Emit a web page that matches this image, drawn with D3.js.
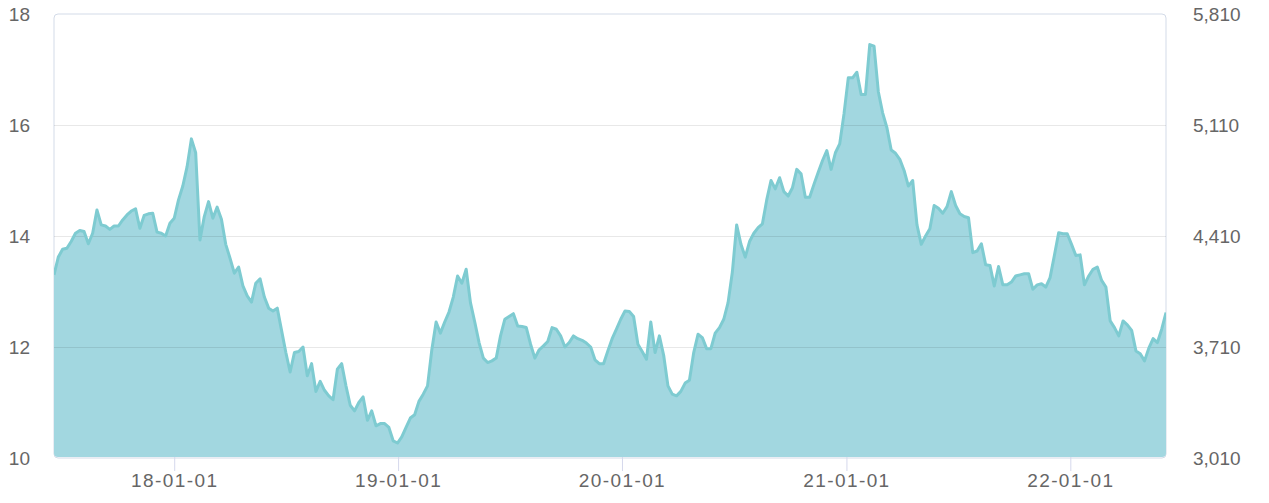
<!DOCTYPE html>
<html>
<head>
<meta charset="utf-8">
<script src="https://cdn.jsdelivr.net/npm/d3@7"></script>
<style>
  html, body { margin: 0; padding: 0; background: #fff; }
  svg { display: block; }
  text { font-family: "Helvetica Neue", Helvetica, "Liberation Sans", Arial, sans-serif; }
</style>
</head>
<body>
<svg id="chart" width="1269" height="503"></svg>
<script>
// ---- data ----
const startDate = "2017-06-19";          // first weekly observation
const weekStepDays = 7;
const values = [
  13.3, 13.62, 13.76, 13.78, 13.9, 14.05, 14.1, 14.08, 13.86, 14.05,
  14.47, 14.2, 14.18, 14.12, 14.18, 14.18, 14.29, 14.38, 14.45, 14.49,
  14.14, 14.37, 14.4, 14.41, 14.07, 14.05, 14.0, 14.23, 14.32, 14.65,
  14.9, 15.25, 15.75, 15.5, 13.93, 14.35, 14.62, 14.32, 14.52, 14.3,
  13.85, 13.6, 13.33, 13.44, 13.1, 12.92, 12.81, 13.15, 13.23, 12.9,
  12.7, 12.65, 12.7, 12.3, 11.9, 11.55, 11.9, 11.92, 12.0, 11.48,
  11.7, 11.2, 11.38, 11.22, 11.12, 11.05, 11.6, 11.7, 11.3, 10.95,
  10.85, 11.0, 11.1, 10.68, 10.85, 10.58, 10.62, 10.62, 10.55, 10.31,
  10.27, 10.38, 10.55, 10.72, 10.78, 11.02, 11.15, 11.3, 11.95, 12.45,
  12.25, 12.45, 12.63, 12.9, 13.28, 13.15, 13.4, 12.8, 12.45, 12.08,
  11.8, 11.72, 11.75, 11.8, 12.2, 12.5, 12.55, 12.6, 12.38, 12.37,
  12.35, 12.05, 11.8, 11.95, 12.02, 12.1, 12.35, 12.32, 12.2, 12.0,
  12.08, 12.2, 12.15, 12.12, 12.07, 12.0, 11.77, 11.7, 11.7, 11.93,
  12.15, 12.32, 12.5, 12.65, 12.64, 12.55, 12.05, 11.92, 11.78, 12.45,
  11.9, 12.2, 11.85, 11.3, 11.15, 11.12, 11.2, 11.35, 11.4, 11.9,
  12.23, 12.17, 11.97, 11.97, 12.25, 12.35, 12.5, 12.8, 13.35, 14.2,
  13.85, 13.62, 13.9, 14.05, 14.15, 14.22, 14.65, 15.0, 14.85, 15.05,
  14.8, 14.72, 14.87, 15.2, 15.12, 14.7, 14.7, 14.93, 15.15, 15.36,
  15.54, 15.2, 15.5, 15.66, 16.2, 16.85, 16.85, 16.95, 16.55, 16.55,
  17.45, 17.42, 16.6, 16.22, 15.95, 15.55, 15.49, 15.38, 15.18, 14.9,
  15.0, 14.2, 13.85, 14.0, 14.13, 14.55, 14.5, 14.41, 14.53, 14.8,
  14.55, 14.4, 14.35, 14.33, 13.7, 13.73, 13.86, 13.48, 13.47, 13.1,
  13.45, 13.12, 13.12, 13.17, 13.28, 13.3, 13.32, 13.32, 13.04, 13.12,
  13.14, 13.08, 13.25, 13.65, 14.06, 14.04, 14.04, 13.85, 13.65, 13.66,
  13.12, 13.28, 13.4, 13.44, 13.2, 13.08, 12.47, 12.35, 12.2, 12.47,
  12.4, 12.3, 11.93, 11.88, 11.75, 11.98, 12.15, 12.08, 12.32, 12.62
];
const leftTicks = [10, 12, 14, 16, 18];
const rightTicks = [3010, 3710, 4410, 5110, 5810];
const xTickDates = ["2018-01-01", "2019-01-01", "2020-01-01", "2021-01-01", "2022-01-01"];

// ---- build ----
const parse = d3.timeParse("%Y-%m-%d");
const t0 = parse(startDate);
const data = values.map((v, i) => ({ date: d3.timeDay.offset(t0, i * weekStepDays), value: v }));

const svg = d3.select("#chart");
const margin = { left: 54, right: 103, top: 14, bottom: 45 };
const W = 1269, H = 503;
const iw = W - margin.left - margin.right;
const ih = H - margin.top - margin.bottom;

const x = d3.scaleTime()
  .domain([data[0].date, data[data.length - 1].date])
  .range([margin.left, margin.left + iw]);
const y = d3.scaleLinear().domain([10, 18]).range([margin.top + ih, margin.top]);
const y2 = d3.scaleLinear().domain([3010, 5810]).range([margin.top + ih, margin.top]);

const defs = svg.append("defs");
defs.append("clipPath").attr("id", "plotclip")
  .append("rect")
  .attr("x", margin.left).attr("y", margin.top - 2)
  .attr("width", iw).attr("height", ih + 1)
  .attr("rx", 4).attr("ry", 4);

// frame
svg.append("rect")
  .attr("x", margin.left).attr("y", margin.top)
  .attr("width", iw).attr("height", ih)
  .attr("rx", 4).attr("ry", 4)
  .attr("fill", "none")
  .attr("stroke", "#d3dbe8")
  .attr("stroke-width", 1);

const g = svg.append("g").attr("clip-path", "url(#plotclip)");

const area = d3.area()
  .x(d => x(d.date))
  .y0(y(10))
  .y1(d => y(d.value));
const line = d3.line()
  .x(d => x(d.date))
  .y(d => y(d.value));

g.append("path").datum(data)
  .attr("d", area)
  .attr("fill", "#a2d7e0");

// gridlines (on top of area, faint)
g.append("g")
  .selectAll("line")
  .data(leftTicks.filter(t => t !== 10 && t !== 18))
  .join("line")
  .attr("x1", margin.left).attr("x2", margin.left + iw)
  .attr("y1", d => Math.round(y(d)) + 0.5).attr("y2", d => Math.round(y(d)) + 0.5)
  .attr("stroke", "rgba(0,0,0,0.09)")
  .attr("stroke-width", 1.2);

g.append("path").datum(data)
  .attr("d", line)
  .attr("fill", "none")
  .attr("stroke", "#7ecbd1")
  .attr("stroke-width", 3)
  .attr("stroke-linejoin", "round");

// left axis
const yAxis = d3.axisLeft(y).tickValues(leftTicks).tickSize(0).tickPadding(24).tickFormat(d3.format("d"));
const gy = svg.append("g").attr("transform", `translate(${margin.left},0)`).call(yAxis);
gy.select(".domain").remove();
gy.selectAll("text").attr("fill", "#666").attr("font-size", 19);

// right axis
const y2Axis = d3.axisRight(y2).tickValues(rightTicks).tickSize(0).tickPadding(27).tickFormat(d3.format(","));
const gy2 = svg.append("g").attr("transform", `translate(${margin.left + iw},0)`).call(y2Axis);
gy2.select(".domain").remove();
gy2.selectAll("text").attr("fill", "#666").attr("font-size", 19);

// x axis
const fmt = d3.timeFormat("%y-%m-%d");
const xAxis = d3.axisBottom(x)
  .tickValues(xTickDates.map(parse))
  .tickSize(14).tickPadding(3).tickFormat(fmt);
const gx = svg.append("g").attr("transform", `translate(0,${margin.top + ih - 1})`).call(xAxis);
gx.select(".domain").remove();
gx.selectAll(".tick line").attr("stroke", "#d5d8ec");
gx.selectAll("text").attr("fill", "#666").attr("font-size", 19).attr("letter-spacing", 1.4);
</script>
</body>
</html>
